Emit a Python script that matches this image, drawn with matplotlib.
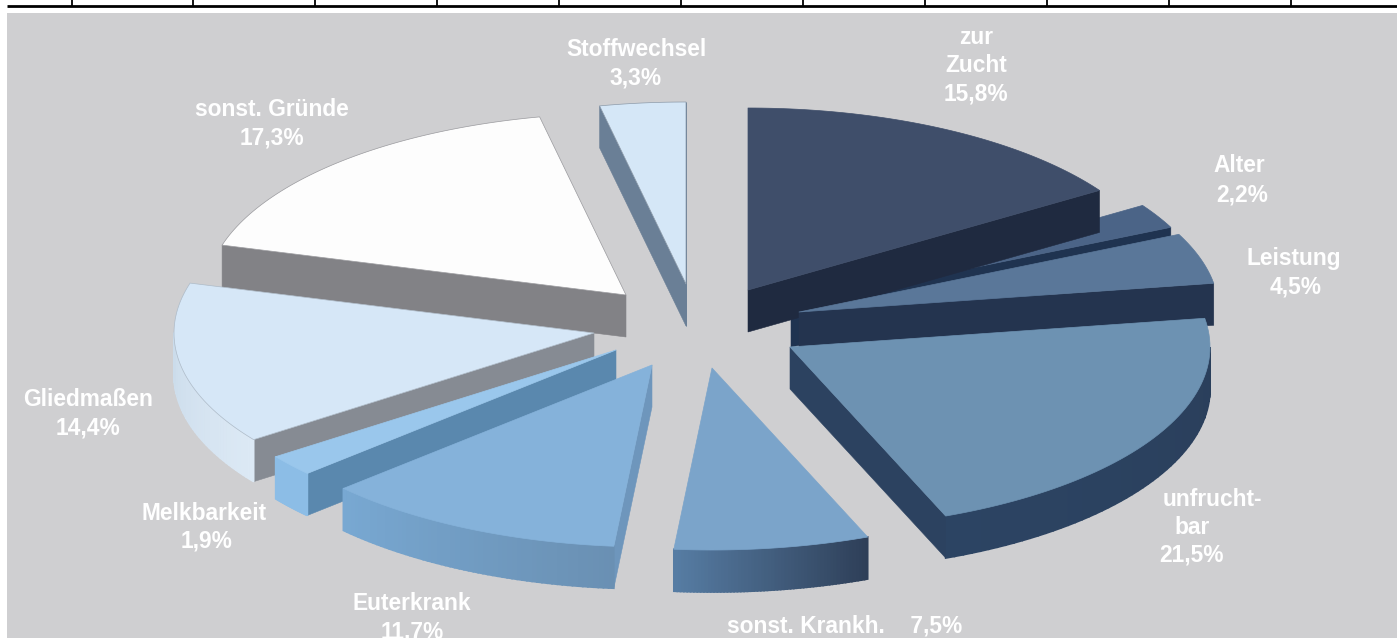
import numpy as np
import matplotlib
matplotlib.use("Agg")
import matplotlib.pyplot as plt
from matplotlib.patches import Polygon, Rectangle
from matplotlib.colors import to_rgb

# ---- data ----
categories = ["zur Zucht", "Alter", "Leistung", "unfruchtbar", "sonst. Krankh.",
              "Euterkrank", "Melkbarkeit", "Gliedmaßen", "sonst. Gründe", "Stoffwechsel"]
shares = [15.8, 2.2, 4.5, 21.5, 7.5, 11.7, 1.9, 14.4, 17.3, 3.3]

# ---- layout / style (pixel space of the figure) ----
W, H = 1397, 638
RX, RY = 420, 182
DEPTH = 42
apex_x = [748, 791, 799, 790, 712, 652, 616, 594, 626, 686]
apex_y = [290, 305, 312, 347, 368, 365, 350, 333, 295, 284]
paint_order = [9, 8, 1, 0, 2, 3, 7, 6, 5, 4]
top_colors = ["#3F4E6A", "#4B6487", "#5A7799", "#6D92B2", "#7BA4CA",
              "#85B2DA", "#9AC7EC", "#D6E7F7", "#FDFDFD", "#D5E7F7"]
wall_start = ["#1F2A40", "#1F3350", "#24344F", "#2E4766", "#2E4766",
              "#6E96BC", "#5A88AE", "#868B93", "#828286", "#6A7F96"]
wall_end = ["#1F2A40", "#1F3350", "#24344F", "#2C4260", "#2E4766",
            "#6E96BC", "#5A88AE", "#868B93", "#828286", "#6A7F96"]
outer_a = ["#27344D", "#27344D", "#263650", "#2A3E5A", "#2E3F58",
           "#6A90B3", "#8CBDE6", "#DCE9F5", "#E8E8E8", "#C0D0E0"]
outer_b = ["#27344D", "#27344D", "#263650", "#2C4463", "#567CA3",
           "#78A8D2", "#8CBDE6", "#C4D6E6", "#E8E8E8", "#C0D0E0"]
edge_colors = ["#3F4E6A", "#4B6487", "#5A7799", "#6D92B2", "#7BA4CA",
               "#85B2DA", "#9AC7EC", "#AEBBC8", "#9A9A9E", "#8D9BAA"]
background = "#CFCFD1"
tick_count = 11
tick_start, tick_step = 71.5, 121.9

fig = plt.figure(figsize=(W / 100, H / 100), dpi=100, facecolor="white")
ax = fig.add_axes([0, 0, 1, 1])
ax.set_xlim(0, W)
ax.set_ylim(H, 0)
ax.axis("off")

ax.add_patch(Rectangle((7, 13), W - 7, H - 13, facecolor=background, edgecolor="none", zorder=0))
ax.plot([7, W], [5.5, 5.5], color="black", lw=2.0, solid_capstyle="butt", zorder=1)
for k in range(tick_count):
    x = tick_start + k * tick_step
    ax.plot([x, x], [0, 6], color="black", lw=1.3, zorder=1)

edges = np.cumsum([0] + shares) / sum(shares) * 2 * np.pi


def rim(i, n=60):
    t = np.linspace(edges[i], edges[i + 1], n)
    return apex_x[i] + RX * np.sin(t), apex_y[i] - RY * np.cos(t)


def wall(px, py, qx, qy, color, z, lw=0.4):
    ax.add_patch(Polygon([(px, py), (qx, qy), (qx, qy + DEPTH), (px, py + DEPTH)],
                         closed=True, facecolor=color, edgecolor=color, lw=lw, zorder=z))


z = 2
for i in paint_order:
    xs, ys = rim(i)
    ax_, ay_ = apex_x[i], apex_y[i]
    ca, cb = np.array(to_rgb(outer_a[i])), np.array(to_rgb(outer_b[i]))
    # radial wall at the slice start, visible when it runs leftwards on screen
    if xs[0] < ax_:
        wall(ax_, ay_, xs[0], ys[0], wall_start[i], z)
    # rim wall, shaded strip by strip along the arc
    for j in range(len(xs) - 1):
        if xs[j + 1] < xs[j]:
            f = j / (len(xs) - 2)
            wall(xs[j], ys[j], xs[j + 1], ys[j + 1], tuple(ca + (cb - ca) * f), z, lw=1.2)
    # radial wall at the slice end
    if ax_ < xs[-1]:
        wall(xs[-1], ys[-1], ax_, ay_, wall_end[i], z)
    ax.add_patch(Polygon(np.column_stack([np.r_[ax_, xs], np.r_[ay_, ys]]), closed=True,
                         facecolor=top_colors[i], edgecolor=edge_colors[i],
                         lw=0.5, joinstyle="round", zorder=z + 0.5))
    z += 1


def pct(name):
    return f"{shares[categories.index(name)]:.1f}%".replace(".", ",")


text_items = [
    ("Stoffwechsel", 636, 50), (pct("Stoffwechsel"), 636, 78),
    ("sonst. Gründe", 272, 110), (pct("sonst. Gründe"), 272, 138),
    ("zur", 976, 38), ("Zucht", 976, 66), (pct("zur Zucht"), 976, 94),
    ("Alter", 1239, 166), (pct("Alter"), 1242, 195),
    ("Leistung", 1294, 258), (pct("Leistung"), 1296, 287),
    ("unfrucht-", 1212, 500), ("bar", 1192, 528), (pct("unfruchtbar"), 1192, 555),
    ("Gliedmaßen", 88, 400), (pct("Gliedmaßen"), 88, 428),
    ("Melkbarkeit", 204, 513), (pct("Melkbarkeit"), 207, 541),
    ("Euterkrank", 412, 604), (pct("Euterkrank"), 412, 632),
    ("sonst. Krankh.    " + pct("sonst. Krankh."), 845, 626),
]
for s, x, y in text_items:
    ax.text(x, y, s, color="white", fontsize=16.4, fontweight="bold",
            family="Liberation Sans", ha="center", va="center", zorder=50)

fig.savefig("out.png", dpi=100, facecolor="white")
